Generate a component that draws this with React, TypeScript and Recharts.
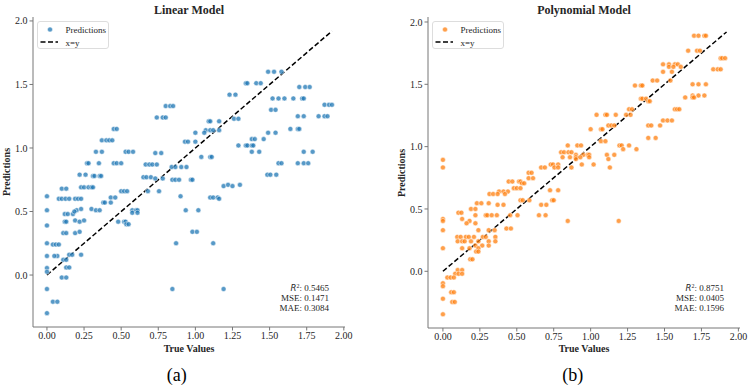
import React from 'react';
import { ScatterChart, Scatter, XAxis, YAxis, ReferenceLine } from 'recharts';

type Pt = [number, number];

// [true value, predicted value]
const linearPoints: Pt[] = [
  [1.49, 1.6], [1.53, 1.6], [1.58, 1.6],
  [1.34, 1.51], [1.35, 1.51], [1.41, 1.51], [1.44, 1.51],
  [1.7, 1.48], [1.74, 1.48], [1.77, 1.48],
  [1.23, 1.42], [1.27, 1.42],
  [1.52, 1.39], [1.56, 1.39], [1.6, 1.39], [1.66, 1.39], [1.72, 1.39], [1.73, 1.39],
  [1.87, 1.34], [1.9, 1.34], [1.92, 1.34],
  [0.8, 1.33], [0.83, 1.33], [0.85, 1.33],
  [1.51, 1.3], [1.54, 1.3],
  [1.69, 1.25], [1.73, 1.25], [1.83, 1.25], [1.87, 1.25], [1.89, 1.25],
  [0.74, 1.24], [0.78, 1.24], [0.8, 1.24], [1.26, 1.23], [1.29, 1.23],
  [1.09, 1.21], [1.1, 1.21], [1.16, 1.21],
  [1.64, 1.15], [1.69, 1.15], [1.7, 1.15],
  [0.45, 1.15], [0.47, 1.15],
  [1.07, 1.14], [1.1, 1.14], [1.12, 1.14], [1.16, 1.14],
  [1.0, 1.12], [1.06, 1.12], [1.49, 1.12], [1.54, 1.12],
  [1.38, 1.07], [1.4, 1.07], [1.46, 1.07],
  [0.37, 1.06], [0.4, 1.06], [0.42, 1.06], [0.44, 1.06], [0.93, 1.05], [0.95, 1.05], [1.0, 1.05],
  [1.29, 1.02], [1.34, 1.02], [1.35, 1.02], [1.38, 1.02], [1.39, 1.02],
  [0.33, 0.97], [0.37, 0.97], [0.53, 0.97], [0.55, 0.97], [0.58, 0.97], [0.73, 0.96], [0.77, 0.96],
  [1.38, 0.97], [1.43, 0.97], [1.73, 0.97], [1.79, 0.97],
  [1.04, 0.93], [1.1, 0.93], [1.11, 0.93],
  [0.27, 0.88], [0.28, 0.88], [0.35, 0.88], [0.45, 0.88], [0.47, 0.88], [0.5, 0.88],
  [0.665, 0.87], [0.69, 0.87], [0.71, 0.87], [0.74, 0.87],
  [1.56, 0.88], [1.58, 0.88], [1.69, 0.88], [1.73, 0.88], [1.76, 0.88],
  [0.84, 0.85], [0.865, 0.85], [0.905, 0.85], [0.94, 0.85],
  [0.22, 0.79], [0.26, 0.79], [0.31, 0.78], [0.32, 0.78], [0.355, 0.78], [0.365, 0.78],
  [1.485, 0.79], [1.505, 0.79], [1.545, 0.79],
  [0.65, 0.77], [0.67, 0.77], [0.7, 0.77], [0.73, 0.76], [0.78, 0.76],
  [0.845, 0.75], [0.865, 0.75], [0.89, 0.75], [0.97, 0.75], [0.98, 0.75],
  [1.19, 0.7], [1.22, 0.71], [1.25, 0.7], [1.3, 0.71],
  [0.23, 0.69], [0.25, 0.69], [0.28, 0.69], [0.3, 0.69], [0.31, 0.69],
  [0.1, 0.68], [0.13, 0.68],
  [0.68, 0.66], [0.755, 0.66], [0.5, 0.66], [0.52, 0.66], [0.54, 0.66],
  [0.0, 0.62], [0.9, 0.62],
  [1.1, 0.61], [1.12, 0.61], [1.15, 0.61], [1.16, 0.6], [0.43, 0.61], [0.46, 0.61],
  [0.08, 0.6], [0.1, 0.6], [0.125, 0.6], [0.15, 0.6], [0.19, 0.6], [0.21, 0.6], [0.23, 0.6],
  [0.38, 0.57], [0.39, 0.57], [0.43, 0.57],
  [0.0, 0.51], [0.2, 0.51], [0.23, 0.52], [0.3, 0.52], [0.33, 0.51], [0.355, 0.51],
  [0.935, 0.51], [1.02, 0.51], [0.575, 0.51], [0.6, 0.51], [0.61, 0.51],
  [0.12, 0.48], [0.14, 0.48], [0.175, 0.48], [0.185, 0.5], [0.575, 0.49], [0.61, 0.49],
  [0.12, 0.42], [0.13, 0.42], [0.19, 0.43], [0.22, 0.42], [0.25, 0.43], [0.48, 0.42], [0.52, 0.42], [0.53, 0.42],
  [0.535, 0.4], [0.55, 0.4],
  [0.0, 0.39],
  [0.98, 0.34], [1.01, 0.34],
  [0.11, 0.33], [0.13, 0.33], [0.19, 0.33], [0.22, 0.34],
  [0.0, 0.25], [0.87, 0.25], [1.12, 0.25],
  [0.04, 0.24], [0.06, 0.24], [0.08, 0.24],
  [0.0, 0.15], [0.07, 0.15], [0.05, 0.15], [0.15, 0.16], [0.17, 0.16], [0.23, 0.16],
  [0.11, 0.12], [0.13, 0.12],
  [0.13, 0.06], [0.15, 0.06],
  [0.0, 0.055], [0.0, 0.026],
  [0.1, -0.02], [0.13, -0.02],
  [0.0, -0.11], [0.845, -0.11], [1.19, -0.11],
  [0.04, -0.21], [0.07, -0.21],
  [0.0, -0.3],
];

const polyPoints: Pt[] = [
  [1.7, 1.89], [1.73, 1.89], [1.77, 1.89], [1.78, 1.89],
  [1.66, 1.77], [1.72, 1.77], [1.74, 1.77],
  [1.88, 1.71], [1.89, 1.71], [1.91, 1.71],
  [1.49, 1.66], [1.53, 1.66], [1.57, 1.66], [1.59, 1.66],
  [1.53, 1.64], [1.56, 1.64], [1.61, 1.64],
  [1.83, 1.62], [1.86, 1.62], [1.88, 1.62],
  [1.49, 1.6], [1.55, 1.6],
  [1.42, 1.53], [1.45, 1.53], [1.54, 1.53],
  [1.69, 1.5], [1.73, 1.5], [1.78, 1.5],
  [1.3, 1.49], [1.34, 1.49], [1.35, 1.49],
  [1.69, 1.41], [1.73, 1.41], [1.77, 1.41],
  [1.64, 1.395], [1.69, 1.395], [1.7, 1.395],
  [1.34, 1.385], [1.35, 1.385], [1.375, 1.385],
  [1.39, 1.365], [1.4, 1.365],
  [1.26, 1.3], [1.28, 1.3], [1.57, 1.3], [1.585, 1.3], [1.6, 1.3],
  [1.04, 1.255], [1.1, 1.255], [1.11, 1.255], [1.17, 1.255], [1.24, 1.255], [1.27, 1.255],
  [1.49, 1.21], [1.52, 1.21], [1.55, 1.21],
  [1.12, 1.17], [1.14, 1.17], [1.16, 1.17], [1.39, 1.17], [1.41, 1.17], [1.47, 1.17],
  [1.0, 1.14], [1.07, 1.14], [1.08, 1.14],
  [1.39, 1.07], [1.44, 1.07],
  [1.07, 1.044], [1.1, 1.044],
  [0.845, 1.01], [0.91, 1.01], [0.935, 1.01], [1.195, 1.01], [1.21, 1.01], [1.26, 1.01],
  [1.22, 0.98], [1.31, 0.98],
  [0.8, 0.955], [0.82, 0.955], [0.85, 0.955], [0.87, 0.955],
  [0.9, 0.934], [0.95, 0.934], [0.98, 0.934], [0.99, 0.934], [1.11, 0.934], [1.16, 0.934],
  [0.81, 0.915], [0.86, 0.915], [0.9, 0.915], [0.93, 0.915], [0.99, 0.915],
  [0.9, 0.9], [1.12, 0.9],
  [0.73, 0.857], [0.745, 0.857], [0.78, 0.857], [0.94, 0.857], [1.02, 0.857],
  [0.665, 0.833], [0.69, 0.833], [0.755, 0.833], [0.78, 0.833], [0.87, 0.833], [1.13, 0.833],
  [0.58, 0.79], [0.6, 0.79],
  [0.58, 0.747], [0.61, 0.747],
  [0.445, 0.72], [0.47, 0.72], [0.515, 0.72], [0.525, 0.72],
  [0.535, 0.706], [0.55, 0.706],
  [0.48, 0.667], [0.5, 0.667], [0.525, 0.667],
  [0.38, 0.64], [0.41, 0.64], [0.44, 0.64],
  [0.315, 0.62], [0.34, 0.62], [0.37, 0.62], [0.42, 0.62],
  [0.725, 0.65], [0.78, 0.65],
  [0.525, 0.57], [0.54, 0.57], [0.585, 0.57], [0.74, 0.57], [0.75, 0.57],
  [0.23, 0.546], [0.26, 0.546], [0.31, 0.546],
  [0.37, 0.533], [0.41, 0.533], [0.665, 0.533], [0.7, 0.533],
  [0.19, 0.5], [0.22, 0.5],
  [0.22, 0.45], [0.29, 0.45], [0.3, 0.45], [0.33, 0.45], [0.365, 0.45], [0.455, 0.45], [0.505, 0.45],
  [0.65, 0.45], [0.695, 0.45],
  [0.105, 0.47], [0.125, 0.47],
  [0.0, 0.42], [0.13, 0.42],
  [0.0, 0.404], [0.18, 0.404], [0.845, 0.404], [1.19, 0.404],
  [0.16, 0.385], [0.22, 0.385],
  [0.43, 0.343], [0.46, 0.343],
  [0.0, 0.33], [0.24, 0.33], [0.31, 0.33], [0.35, 0.33],
  [0.097, 0.276], [0.12, 0.276], [0.155, 0.276], [0.175, 0.276], [0.21, 0.276], [0.27, 0.276], [0.29, 0.276], [0.355, 0.276],
  [0.1, 0.24], [0.13, 0.24], [0.147, 0.24], [0.19, 0.24], [0.24, 0.24], [0.31, 0.24], [0.355, 0.24],
  [0.22, 0.206], [0.266, 0.206], [0.31, 0.206],
  [0.0, 0.185], [0.13, 0.185], [0.18, 0.185], [0.24, 0.185],
  [0.225, 0.158], [0.24, 0.158],
  [0.185, 0.096], [0.2, 0.096],
  [0.1, 0.01], [0.13, 0.01],
  [0.083, -0.02], [0.106, -0.02], [0.13, -0.02],
  [0.03, -0.05], [0.052, -0.05], [0.074, -0.05],
  [0.0, -0.096], [0.0, -0.12],
  [0.056, -0.168], [0.074, -0.168],
  [0.0, -0.22],
  [0.063, -0.246], [0.08, -0.246],
  [0.0, -0.345],
  [0.0, 0.894], [0.0, 0.833],
];

const xTicks = [0, 0.25, 0.5, 0.75, 1, 1.25, 1.5, 1.75, 2];
const yTicks = [0, 0.5, 1, 1.5, 2];
const maxTrue = 1.92;

const linearMetrics = ['0.5465', '0.1471', '0.3084'];
const polyMetrics = ['0.8751', '0.0405', '0.1596'];

const SERIF = '"Liberation Serif", "Times New Roman", serif';
const FRAME = '#777';
const INK = '#262626';
const HEIGHT = 389;

interface PanelProps {
  title: string;
  tag: string;
  points: Pt[];
  color: string;
  metrics: string[];
  left: number;
  width: number;
  yAxisWidth: number;
  marginRight: number;
  xAxisHeight: number;
  xDomain: [number, number];
  yDomain: [number, number];
  tagX: number;
}

function Panel(p: PanelProps) {
  const data = p.points.map(([x, y]) => ({ x, y }));
  const plotLeft = p.left + p.yAxisWidth;
  const plotRight = p.left + p.width - p.marginRight;
  const plotTop = 17;
  const plotBottom = HEIGHT - p.xAxisHeight;
  const cx = (plotLeft + plotRight) / 2;
  const cy = (plotTop + plotBottom) / 2;

  const abs = (style: React.CSSProperties): React.CSSProperties => ({
    position: 'absolute',
    fontFamily: SERIF,
    color: INK,
    whiteSpace: 'nowrap',
    lineHeight: 1,
    ...style,
  });

  return (
    <>
      <div style={{ position: 'absolute', left: p.left, top: 0 }}>
        <ScatterChart
          width={p.width}
          height={HEIGHT}
          margin={{ top: plotTop, right: p.marginRight, bottom: 0, left: 0 }}
        >
          <XAxis
            dataKey="x"
            type="number"
            domain={p.xDomain}
            ticks={xTicks}
            allowDataOverflow
            height={p.xAxisHeight}
            tickFormatter={(v: number) => v.toFixed(2)}
            tick={{ fontSize: 10, fontFamily: SERIF, fill: INK }}
            tickSize={3.5}
            tickMargin={1.5}
            stroke={FRAME}
            interval={0}
          />
          <XAxis
            xAxisId="top"
            orientation="top"
            type="number"
            domain={p.xDomain}
            allowDataOverflow
            height={0}
            tick={false}
            tickLine={false}
            stroke={FRAME}
          />
          <YAxis
            dataKey="y"
            type="number"
            domain={p.yDomain}
            ticks={yTicks}
            allowDataOverflow
            width={p.yAxisWidth}
            tickFormatter={(v: number) => v.toFixed(1)}
            tick={{ fontSize: 10, fontFamily: SERIF, fill: INK }}
            tickSize={3.5}
            tickMargin={2}
            stroke={FRAME}
            interval={0}
          />
          <YAxis
            yAxisId="right"
            orientation="right"
            type="number"
            domain={p.yDomain}
            allowDataOverflow
            width={0}
            tick={false}
            tickLine={false}
            stroke={FRAME}
          />
          <Scatter
            data={data}
            isAnimationActive={false}
            shape={(s: any) => (
              <circle
                cx={s.cx}
                cy={s.cy}
                r={2.5}
                fill={p.color}
                fillOpacity={0.75}
                stroke="#fff"
                strokeWidth={0.5}
              />
            )}
          />
          <ReferenceLine
            segment={[
              { x: 0, y: 0 },
              { x: maxTrue, y: maxTrue },
            ]}
            stroke="#000"
            strokeWidth={1.5}
            strokeDasharray="5 2.5"
            ifOverflow="visible"
          />
        </ScatterChart>
      </div>

      {/* title and axis titles */}
      <div style={abs({ left: cx, top: 10, transform: 'translate(-50%,-50%)', fontSize: 12, fontWeight: 700 })}>
        {p.title}
      </div>
      <div style={abs({ left: cx, top: 349, transform: 'translate(-50%,-50%)', fontSize: 10, fontWeight: 700 })}>
        True Values
      </div>
      <div
        style={abs({
          left: plotLeft - 26.5,
          top: cy,
          transform: 'translate(-50%,-50%) rotate(-90deg)',
          fontSize: 10,
          fontWeight: 700,
        })}
      >
        Predictions
      </div>
      <div style={abs({ left: p.tagX, top: 375, transform: 'translate(-50%,-50%)', fontSize: 18, color: '#000' })}>
        ({p.tag})
      </div>

      {/* legend */}
      <div
        style={{
          position: 'absolute',
          left: plotLeft + 4,
          top: plotTop + 4,
          width: 72,
          height: 28,
          boxSizing: 'border-box',
          border: '1px solid #ddd',
          borderRadius: 3,
          background: 'rgba(255,255,255,0.8)',
        }}
      >
        <svg width={72} height={28} style={{ position: 'absolute', left: -1, top: -1 }}>
          <circle cx={13} cy={8.5} r={2.5} fill={p.color} fillOpacity={0.75} stroke="#fff" strokeWidth={0.5} />
          <line x1={3.5} x2={21} y1={21} y2={21} stroke="#000" strokeWidth={1.5} strokeDasharray="5 2.5" />
        </svg>
        <div style={abs({ left: 27.5, top: 4, fontSize: 9 })}>Predictions</div>
        <div style={abs({ left: 27.5, top: 16.5, fontSize: 9 })}>x=y</div>
      </div>

      {/* metrics box */}
      <div
        style={abs({
          right: 752 - (plotRight - 16),
          top: 283.5,
          fontSize: 9,
          lineHeight: '9.5px',
          textAlign: 'right',
        })}
      >
        <div>
          <i style={{ fontFamily: '"DejaVu Sans", sans-serif', fontSize: 8.5 }}>R</i>
          <sup style={{ fontSize: 6, verticalAlign: 0, position: 'relative', top: -3 }}>2</sup>: {p.metrics[0]}
        </div>
        <div>MSE: {p.metrics[1]}</div>
        <div>MAE: {p.metrics[2]}</div>
      </div>
    </>
  );
}

export default function App() {
  return (
    <div
      style={{
        position: 'absolute',
        left: 0,
        top: 0,
        width: 752,
        height: HEIGHT,
        background: '#fff',
        overflow: 'hidden',
      }}
    >
      <Panel
        title="Linear Model"
        tag="a"
        points={linearPoints}
        color="#1f77b4"
        metrics={linearMetrics}
        left={0}
        width={376}
        yAxisWidth={33}
        marginRight={31}
        xAxisHeight={62}
        xDomain={[-0.094, 2.008]}
        yDomain={[-0.409, 2.031]}
        tagX={176.7}
      />
      <Panel
        title="Polynomial Model"
        tag="b"
        points={polyPoints}
        color="#ff7f0e"
        metrics={polyMetrics}
        left={394}
        width={358}
        yAxisWidth={34}
        marginRight={12}
        xAxisHeight={61}
        xDomain={[-0.101, 2.011]}
        yDomain={[-0.455, 2.04]}
        tagX={572.7}
      />
    </div>
  );
}
